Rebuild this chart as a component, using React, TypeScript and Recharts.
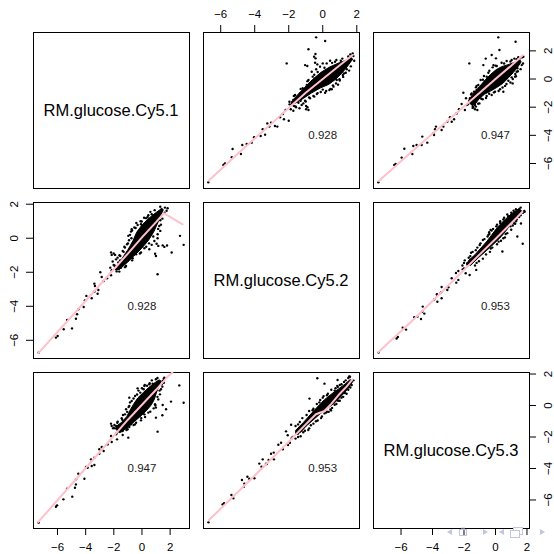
import React from 'react';
import { ScatterChart, Scatter, XAxis, YAxis, ReferenceArea } from 'recharts';

type Pt = [number, number];

// ---------- variables ----------
const variableNames = ['RM.glucose.Cy5.1', 'RM.glucose.Cy5.2', 'RM.glucose.Cy5.3'];
const variableDomains: Pt[] = [[-7.74, 3.34], [-7.04, 2.13], [-7.78, 2.13]];
const axisTicks = [-6, -4, -2, 0, 2];
const correlationLabels = ['0.928', '0.947', '0.953']; // (1,2), (1,3), (2,3)
const correlationAt: Pt = [0, -4];

// ---------- pair A : [Cy5.2, Cy5.1] ----------
const pairAPoints: Pt[] = [
  [-6.73, -7.34], [-5.84, -6.11], [-5.75, -5.99], [-5.35, -5.56], [-5.30, -4.97], [-4.81, -5.32],
  [-4.73, -4.69], [-4.47, -4.61], [-4.18, -4.52], [-4.04, -4.14], [-3.65, -4.05], [-3.53, -3.57],
  [-3.39, -3.95], [-3.26, -3.15], [-3.14, -3.38], [-3.04, -3.10], [-2.81, -3.34], [-2.67, -3.38],
  [-2.51, -2.72], [-2.35, -2.48], [-2.28, -2.86], [-2.18, -2.20], [-2.12, 1.11], [-2.00, -2.96],
  [-1.96, -1.61], [-1.88, -2.15], [-1.82, -1.84], [-1.73, -2.25], [-1.57, -2.01], [-1.49, -1.37],
  [-1.37, -2.08], [-1.14, -1.73], [-1.04, 0.99], [-0.98, -2.15], [-0.90, -2.01], [-0.84, 2.11],
  [-0.51, 1.59], [-0.43, 1.78], [-0.39, 2.96], [0.14, 2.70], [-0.45, 1.16], [-0.32, 1.04],
  [0.53, -0.73], [0.82, -0.07], [0.96, 0.76], [1.25, 0.40], [1.31, 0.83], [1.70, 1.40],
  [1.76, 1.82], [1.80, 1.63], [-0.42, 1.47], [-0.91, 0.93],
];
const pairAEdge: Pt[] = [
  [-1.73, -1.49], [-1.63, -1.13], [-1.33, -1.02], [-1.24, -1.25], [-1.18, -0.66], [-0.94, -0.42],
  [-0.84, -0.07], [-0.59, 0.17], [-0.65, 0.52], [-0.39, 0.69], [-0.16, 0.88], [0.00, 1.11],
  [0.23, 1.11], [0.43, 1.30], [0.72, 1.23], [1.06, 1.30], [1.22, 1.11], [1.37, 0.93],
  [1.41, 0.69], [1.18, 0.29], [0.98, -0.02], [0.78, -0.31], [0.63, -0.54], [0.39, -0.78],
  [0.14, -0.97], [-0.12, -0.92], [-0.35, -1.06], [-0.55, -1.21], [-0.75, -1.37], [-1.04, -1.54],
  [-1.24, -1.84], [-0.98, -1.91], [-1.43, -1.68], [-1.69, -1.91], [-0.84, -2.20],
  [-1.70, -1.20], [-1.30, -0.70], [-0.90, -0.15], [-0.50, 0.30], [-0.30, 0.50], [0.10, 0.80],
  [0.55, 1.15], [0.80, 1.35], [1.15, 1.45], [1.50, 1.60], [1.62, 1.75], [1.85, 1.30],
  [1.65, 0.90], [1.55, 0.60], [1.35, 0.45], [1.20, 0.15], [1.00, -0.10], [0.90, -0.40],
  [0.60, -0.45], [0.45, -0.70], [0.20, -0.85], [0.00, -0.75], [-0.30, -1.00], [-0.50, -1.25],
  [-0.80, -1.30], [-1.00, -1.60], [-1.30, -1.55], [-1.60, -1.95], [-1.95, -1.80],
];
const pairACore: Pt[] = [
  [-1.85, -1.62], [-1.45, -1.08], [-1.05, -0.58], [-0.60, -0.03], [-0.10, 0.48], [0.40, 0.85],
  [0.90, 1.12], [1.35, 1.33], [1.68, 1.52], [1.72, 1.35], [1.48, 0.95], [1.18, 0.50],
  [0.80, 0.02], [0.35, -0.38], [-0.15, -0.64], [-0.65, -0.98], [-1.10, -1.34], [-1.50, -1.65],
  [-1.85, -1.82],
];

// ---------- pair B : [Cy5.3, Cy5.1] ----------
const pairBPoints: Pt[] = [
  [-7.44, -7.34], [-6.43, -6.11], [-6.34, -6.03], [-5.96, -5.58], [-5.79, -4.95], [-5.28, -5.32],
  [-5.22, -4.76], [-5.01, -4.69], [-4.69, -4.69], [-4.33, -4.52], [-4.65, -4.09], [-3.95, -3.86],
  [-3.84, -3.57], [-3.78, -3.38], [-3.90, -3.98], [-3.42, -3.62], [-3.31, -3.38], [-3.06, -3.03],
  [-2.89, -2.72], [-2.78, -3.03], [-2.63, -2.86], [-2.47, -2.44], [-2.32, -2.15], [-2.15, -1.77],
  [-2.04, -0.97], [-1.94, -2.20], [-1.83, -1.84], [-1.66, 1.11], [-1.62, -1.61], [-1.41, -2.01],
  [-1.30, -2.15], [-1.19, -0.78], [-0.77, 0.99], [-0.24, 1.71], [0.03, 1.47], [0.18, 2.96],
  [0.25, 2.06], [1.28, 2.65], [-0.13, 0.99], [1.35, 0.52], [1.24, 0.17], [1.09, -0.31],
  [0.50, -0.90], [1.56, 1.47], [1.67, 0.99], [1.77, 1.59], [-0.62, 1.45],
];
const pairBEdge: Pt[] = [
  [-1.87, -1.37], [-1.62, -1.37], [-1.51, -1.02], [-1.36, -0.90], [-1.24, -0.59], [-1.09, -0.42],
  [-0.94, -0.07], [-0.73, 0.22], [-0.56, 0.17], [-0.39, 0.59], [-0.18, 0.83], [0.08, 0.93],
  [0.39, 1.16], [0.71, 1.28], [1.03, 1.35], [1.35, 1.40], [1.45, 1.11], [1.39, 0.76],
  [1.26, 0.36], [1.03, 0.12], [0.82, -0.12], [0.61, -0.49], [0.29, -0.73], [-0.03, -0.90],
  [-0.24, -1.13], [-0.56, -1.21], [-0.81, -1.44], [-1.02, -1.73], [-1.24, -1.96], [-1.15, -2.20],
  [-1.45, -1.91], [-1.30, -1.84],
  [-1.55, -1.10], [-1.20, -0.50], [-0.80, -0.05], [-0.45, 0.45], [0.00, 0.95], [0.55, 1.10],
  [0.95, 1.25], [1.20, 1.45], [1.45, 1.55], [1.70, 1.55], [1.75, 1.10], [1.60, 0.70],
  [1.42, 0.55], [1.30, 0.20], [1.10, 0.00], [0.95, -0.25], [0.70, -0.35], [0.45, -0.60],
  [0.20, -0.85], [-0.10, -0.95], [-0.40, -1.05], [-0.60, -1.35], [-0.90, -1.40], [-1.10, -1.75],
  [-1.45, -2.05], [-1.75, -1.80],
];
const pairBCore: Pt[] = [
  [-1.70, -1.50], [-1.35, -0.95], [-1.00, -0.52], [-0.65, -0.06], [-0.30, 0.34], [0.05, 0.67],
  [0.40, 0.88], [0.80, 1.02], [1.20, 1.18], [1.55, 1.36], [1.63, 1.22], [1.43, 0.88],
  [1.13, 0.46], [0.83, 0.10], [0.48, -0.30], [0.08, -0.60], [-0.30, -0.85], [-0.70, -1.08],
  [-1.05, -1.42], [-1.30, -1.80], [-1.55, -1.82], [-1.72, -1.62],
];

// ---------- pair C : [Cy5.2, Cy5.3] ----------
const pairCPoints: Pt[] = [
  [-6.72, -7.42], [-5.89, -6.28], [-5.80, -6.20], [-5.37, -5.68], [-5.26, -5.89], [-4.64, -5.16],
  [-4.75, -4.73], [-4.61, -4.96], [-4.43, -4.52], [-4.32, -4.65], [-4.02, -4.62], [-3.73, -3.69],
  [-3.60, -3.89], [-3.53, -3.42], [-3.33, -3.69], [-3.29, -3.72], [-3.18, -3.46], [-3.04, -3.06],
  [-2.88, -2.99], [-2.87, -3.42], [-2.61, -2.49], [-2.45, -2.36], [-2.35, -2.78], [-2.16, -1.64],
  [-2.06, -1.89], [-2.04, -2.51], [-1.93, -2.36], [-1.86, -1.22], [-1.83, -2.08], [-1.77, -2.00],
  [-1.47, -1.79], [-0.78, 0.44], [-0.32, 1.73], [0.10, 1.39], [0.49, -0.31], [0.25, -0.39],
  [0.88, 1.18], [0.87, 1.62], [1.60, 1.83], [1.70, 1.51],
];
const pairCEdge: Pt[] = [
  [-1.60, -1.30], [-1.35, -1.05], [-1.20, -0.80], [-0.95, -0.60], [-0.80, -0.35], [-0.55, -0.20],
  [-0.35, 0.10], [-0.15, 0.35], [0.05, 0.60], [0.30, 0.75], [0.50, 1.00], [0.75, 1.10],
  [1.00, 1.30], [1.25, 1.50], [1.50, 1.75], [1.70, 1.30], [1.50, 1.00], [1.30, 0.80],
  [1.10, 0.50], [0.90, 0.30], [0.70, 0.05], [0.45, -0.25], [0.20, -0.45], [-0.05, -0.70],
  [-0.30, -0.95], [-0.55, -1.15], [-0.80, -1.45], [-1.05, -1.60], [-1.30, -1.95], [-1.60, -2.10],
  [-1.45, -1.20], [-0.60, -0.30], [-0.20, 0.20], [0.00, 0.50], [0.25, 0.65], [0.70, 0.95],
  [0.85, 1.25], [1.10, 1.35], [1.35, 1.60], [1.55, 1.85], [1.80, 1.60], [1.62, 1.15],
  [1.40, 0.75], [1.20, 0.55], [1.00, 0.30], [0.80, 0.10], [0.55, -0.15], [0.35, -0.40],
  [0.10, -0.50], [-0.10, -0.80], [-0.40, -1.00], [-0.70, -1.25], [-0.85, -1.55], [-1.15, -1.70],
  [-1.45, -2.00],
];
const pairCCore: Pt[] = [
  [-1.60, -1.58], [-1.15, -1.09], [-0.75, -0.60], [-0.35, -0.13], [0.10, 0.37], [0.55, 0.76],
  [0.95, 1.07], [1.35, 1.40], [1.62, 1.66], [1.72, 1.45], [1.43, 1.00], [1.03, 0.53],
  [0.63, 0.11], [0.23, -0.21], [-0.17, -0.54], [-0.57, -0.92], [-0.97, -1.30], [-1.30, -1.70],
  [-1.58, -1.84],
];

// ---------- lowess curves, in each panel's own (x, y) ----------
const lowess12: Pt[] = [[-6.73, -7.25], [-5, -5.3], [-3, -3.15], [-2, -2.05], [-1, -0.98], [0, 0.0], [1, 0.98], [1.78, 1.72]];
const lowess21: Pt[] = [[-7.41, -6.8], [-5, -4.6], [-3, -2.75], [-1, -0.9], [0, 0.05], [1, 0.95], [1.55, 1.47], [2.0, 1.25], [2.5, 1.0], [2.94, 0.78]];
const lowess13: Pt[] = [[-7.45, -7.28], [-5, -4.85], [-3, -2.92], [-1, -0.98], [0, 0.0], [1, 0.95], [1.77, 1.72]];
const lowess31: Pt[] = [[-7.41, -7.44], [-5, -5.0], [-3, -2.95], [-1, -0.9], [0, 0.05], [1, 1.0], [1.87, 1.88], [2.2, 2.13]];
const lowess23: Pt[] = [[-7.48, -6.73], [-5, -4.6], [-3, -2.78], [-1, -0.95], [0, -0.05], [1, 0.88], [1.75, 1.58]];
const lowess32: Pt[] = [[-6.73, -7.32], [-4, -4.45], [-2, -2.3], [-1, -1.2], [-0.4, -0.55], [0.1, -0.35], [0.5, 0.1], [1.0, 0.75], [1.4, 1.2], [1.77, 1.7]];

// ---------- layout ----------
const FONT = '"Liberation Sans", Arial, Helvetica, sans-serif';
const SIZE = 156;
const PAD = 30;
const colLeft = [33, 203, 373];
const rowTop = [32, 202, 372];

const toObj = (a: Pt[]) => a.map(([x, y]) => ({ x, y }));
const swap = (a: Pt[]) => a.map(([x, y]) => [y, x] as Pt);
const fmt = (v: number) => (v < 0 ? '\u2212' + Math.abs(v) : String(v));

const Dot = (p: any) => <circle cx={p.cx} cy={p.cy} r={1.2} fill="#000" />;
const Empty = () => <g />;
const CorePolygon = (p: any) => {
  const pts = p.points || [];
  if (!pts.length) return <g />;
  const d = pts.map((q: any, i: number) => `${i ? 'L' : 'M'}${q.x},${q.y}`).join('') + 'Z';
  return <path d={d} fill="#000" stroke="#000" strokeWidth={1} strokeLinejoin="round" />;
};

function XTick(props: any) {
  const { x, payload, side } = props;
  const y = side === 'top' ? PAD - 18 : PAD + SIZE + 19;
  return (
    <text x={x} y={y} textAnchor="middle" dominantBaseline="central" fontSize={11.5} fontFamily={FONT} fill="#000">
      {fmt(payload.value)}
    </text>
  );
}
function YTick(props: any) {
  const { y, payload, side } = props;
  const x = side === 'left' ? PAD - 19 : PAD + SIZE + 19;
  return (
    <text x={x} y={y} transform={`rotate(-90 ${x} ${y})`} textAnchor="middle" dominantBaseline="central" fontSize={11.5} fontFamily={FONT} fill="#000">
      {fmt(payload.value)}
    </text>
  );
}

type PanelProps = {
  row: number;
  col: number;
  points?: Pt[];
  edge?: Pt[];
  core?: Pt[];
  lowess?: Pt[];
  corr?: string;
  label?: string;
  xSide?: 'top' | 'bottom';
  ySide?: 'left' | 'right';
};

function Panel({ row, col, points, edge, core, lowess, corr, label, xSide, ySide }: PanelProps) {
  const xd = variableDomains[col];
  const yd = variableDomains[row];
  return (
    <>
      <div style={{ position: 'absolute', left: colLeft[col] - PAD, top: rowTop[row] - PAD }}>
        <ScatterChart
          width={SIZE + 2 * PAD}
          height={SIZE + 2 * PAD}
          margin={{
            top: xSide === 'top' ? 0 : PAD,
            bottom: xSide === 'bottom' ? 0 : PAD,
            left: ySide === 'left' ? 0 : PAD,
            right: ySide === 'right' ? 0 : PAD,
          }}
        >
          <XAxis
            type="number"
            dataKey="x"
            domain={xd}
            allowDataOverflow
            hide={!xSide}
            orientation={xSide === 'top' ? 'top' : 'bottom'}
            height={PAD}
            ticks={axisTicks}
            interval={0}
            tickSize={7}
            tickLine={{ stroke: '#000' }}
            axisLine={false}
            tick={<XTick side={xSide} />}
          />
          <YAxis
            type="number"
            dataKey="y"
            domain={yd}
            allowDataOverflow
            hide={!ySide}
            orientation={ySide === 'right' ? 'right' : 'left'}
            width={PAD}
            ticks={axisTicks}
            interval={0}
            tickSize={7}
            tickLine={{ stroke: '#000' }}
            axisLine={false}
            tick={<YTick side={ySide} />}
          />
          <ReferenceArea x1={xd[0]} x2={xd[1]} y1={yd[0]} y2={yd[1]} fill="none" stroke="#000" strokeWidth={1} ifOverflow="visible" shapeRendering="crispEdges" />
          {core && <Scatter data={toObj(core)} line={CorePolygon} lineType="joint" shape={Empty} isAnimationActive={false} />}
          {edge && <Scatter data={toObj(edge)} shape={Dot} isAnimationActive={false} />}
          {points && <Scatter data={toObj(points)} shape={Dot} isAnimationActive={false} />}
          {lowess && (
            <Scatter
              data={toObj(lowess)}
              line={{ stroke: '#FFC0CB', strokeWidth: 2 }}
              lineType="joint"
              shape={Empty}
              isAnimationActive={false}
            />
          )}
          {corr && (
            <Scatter
              data={toObj([correlationAt])}
              shape={(p: any) => (
                <text x={p.cx} y={p.cy} textAnchor="middle" dominantBaseline="central" fontSize={11.5} fontFamily={FONT} fill="#222">
                  {corr}
                </text>
              )}
              isAnimationActive={false}
            />
          )}
        </ScatterChart>
      </div>
      {label && (
        <div
          style={{
            position: 'absolute',
            left: colLeft[col],
            top: rowTop[row],
            width: SIZE,
            height: SIZE,
            display: 'flex',
            alignItems: 'center',
            justifyContent: 'center',
            fontFamily: FONT,
            fontSize: 16.5,
            color: '#000',
            pointerEvents: 'none',
          }}
        >
          {label}
        </div>
      )}
    </>
  );
}

function NavIcons() {
  const c = '#c4c4e4';
  return (
    <svg style={{ position: 'absolute', left: 0, top: 0 }} width={554} height={554}>
      <polygon points="452,529 447,532 452,535" fill={c} />
      <rect x={459.5} y={529.5} width={7} height={6} fill="none" stroke={c} strokeWidth={1} />
      <line x1={461} y1={528} x2={465} y2={528} stroke={c} strokeWidth={1} />
      <polygon points="483,529 488,532 483,535" fill={c} />
      <polygon points="504,529 499,532 504,535" fill={c} />
      <rect x={513.5} y={527.5} width={9} height={7} fill="#fff" stroke={c} strokeWidth={1} />
      <rect x={510.5} y={530.5} width={9} height={7} fill="#fff" stroke={c} strokeWidth={1} />
      <polygon points="540,529 545,532 540,535" fill={c} />
    </svg>
  );
}

export default function App() {
  return (
    <div style={{ position: 'absolute', left: 0, top: 0, width: 554, height: 554, background: '#fff', overflow: 'hidden' }}>
      <Panel row={0} col={0} label={variableNames[0]} />
      <Panel row={0} col={1} points={pairAPoints} edge={pairAEdge} core={pairACore} lowess={lowess12} corr={correlationLabels[0]} xSide="top" />
      <Panel row={0} col={2} points={pairBPoints} edge={pairBEdge} core={pairBCore} lowess={lowess13} corr={correlationLabels[1]} ySide="right" />
      <Panel row={1} col={0} points={swap(pairAPoints)} edge={swap(pairAEdge)} core={swap(pairACore)} lowess={lowess21} corr={correlationLabels[0]} ySide="left" />
      <Panel row={1} col={1} label={variableNames[1]} />
      <Panel row={1} col={2} points={swap(pairCPoints)} edge={swap(pairCEdge)} core={swap(pairCCore)} lowess={lowess23} corr={correlationLabels[2]} />
      <Panel row={2} col={0} points={swap(pairBPoints)} edge={swap(pairBEdge)} core={swap(pairBCore)} lowess={lowess31} corr={correlationLabels[1]} xSide="bottom" />
      <Panel row={2} col={1} points={pairCPoints} edge={pairCEdge} core={pairCCore} lowess={lowess32} corr={correlationLabels[2]} />
      <Panel row={2} col={2} label={variableNames[2]} xSide="bottom" ySide="right" />
      <NavIcons />
    </div>
  );
}
